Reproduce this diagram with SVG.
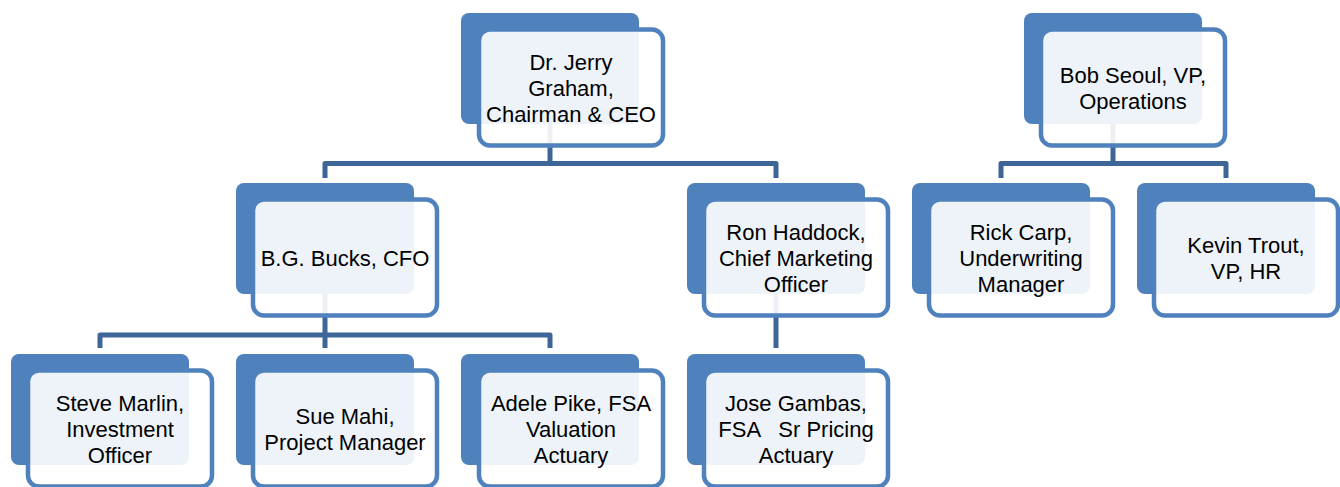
<svg xmlns="http://www.w3.org/2000/svg" width="1340" height="487" viewBox="0 0 1340 487">
<style>
.bk{fill:#4f81bd}
.fr{fill:#ffffff;fill-opacity:0.9;stroke:#4f81bd;stroke-width:4.5}
.cn{fill:none;stroke:#3e6597;stroke-width:5;stroke-linejoin:round}
text{font-family:"Liberation Sans",Arial,sans-serif;font-size:22px;fill:#000;text-anchor:middle}
</style>
<rect width="1340" height="487" fill="#ffffff"/>
<g id="connectors">
<path class="cn" d="M550,124 V163.5"/>
<path class="cn" d="M325,178 V163.5 H776 V178"/>
<path class="cn" d="M325,294 V335"/>
<path class="cn" d="M100,348 V335 H550 V348"/>
<path class="cn" d="M325,335 V348"/>
<path class="cn" d="M776,294 V348"/>
<path class="cn" d="M1113,124 V163.5"/>
<path class="cn" d="M1001,178 V163.5 H1226 V178"/>
</g>
<g id="n-jerry">
<rect class="bk" x="461" y="13" width="178" height="111" rx="8"/>
<rect class="fr" x="479" y="29.5" width="184" height="116" rx="11"/>
<text x="571" y="69.5">Dr. Jerry</text>
<text x="571" y="95.5">Graham,</text>
<text x="571" y="121.5">Chairman &amp; CEO</text>
</g>
<g id="n-bob">
<rect class="bk" x="1024" y="13" width="178" height="111" rx="8"/>
<rect class="fr" x="1041" y="29.5" width="184" height="116" rx="11"/>
<text x="1133" y="82.5">Bob Seoul, VP,</text>
<text x="1133" y="108.5">Operations</text>
</g>
<g id="n-bg">
<rect class="bk" x="236" y="183" width="178" height="111" rx="8"/>
<rect class="fr" x="253" y="199.5" width="184" height="116" rx="11"/>
<text x="345" y="265.5">B.G. Bucks, CFO</text>
</g>
<g id="n-ron">
<rect class="bk" x="687" y="183" width="178" height="111" rx="8"/>
<rect class="fr" x="704" y="199.5" width="184" height="116" rx="11"/>
<text x="796" y="239.5">Ron Haddock,</text>
<text x="796" y="265.5">Chief Marketing</text>
<text x="796" y="291.5">Officer</text>
</g>
<g id="n-rick">
<rect class="bk" x="912" y="183" width="178" height="111" rx="8"/>
<rect class="fr" x="929" y="199.5" width="184" height="116" rx="11"/>
<text x="1021" y="239.5">Rick Carp,</text>
<text x="1021" y="265.5">Underwriting</text>
<text x="1021" y="291.5">Manager</text>
</g>
<g id="n-kevin">
<rect class="bk" x="1137" y="183" width="178" height="111" rx="8"/>
<rect class="fr" x="1154" y="199.5" width="184" height="116" rx="11"/>
<text x="1246" y="252.5">Kevin Trout,</text>
<text x="1246" y="278.5">VP, HR</text>
</g>
<g id="n-steve">
<rect class="bk" x="11" y="354" width="178" height="111" rx="8"/>
<rect class="fr" x="28" y="370.5" width="184" height="116" rx="11"/>
<text x="120" y="410.5">Steve Marlin,</text>
<text x="120" y="436.5">Investment</text>
<text x="120" y="462.5">Officer</text>
</g>
<g id="n-sue">
<rect class="bk" x="236" y="354" width="178" height="111" rx="8"/>
<rect class="fr" x="253" y="370.5" width="184" height="116" rx="11"/>
<text x="345" y="423.5">Sue Mahi,</text>
<text x="345" y="449.5">Project Manager</text>
</g>
<g id="n-adele">
<rect class="bk" x="461" y="354" width="178" height="111" rx="8"/>
<rect class="fr" x="479" y="370.5" width="184" height="116" rx="11"/>
<text x="571" y="410.5">Adele Pike, FSA</text>
<text x="571" y="436.5">Valuation</text>
<text x="571" y="462.5">Actuary</text>
</g>
<g id="n-jose">
<rect class="bk" x="687" y="354" width="178" height="111" rx="8"/>
<rect class="fr" x="704" y="370.5" width="184" height="116" rx="11"/>
<text x="796" y="410.5">Jose Gambas,</text>
<text x="796" y="436.5" xml:space="preserve">FSA   Sr Pricing</text>
<text x="796" y="462.5">Actuary</text>
</g>
</svg>
